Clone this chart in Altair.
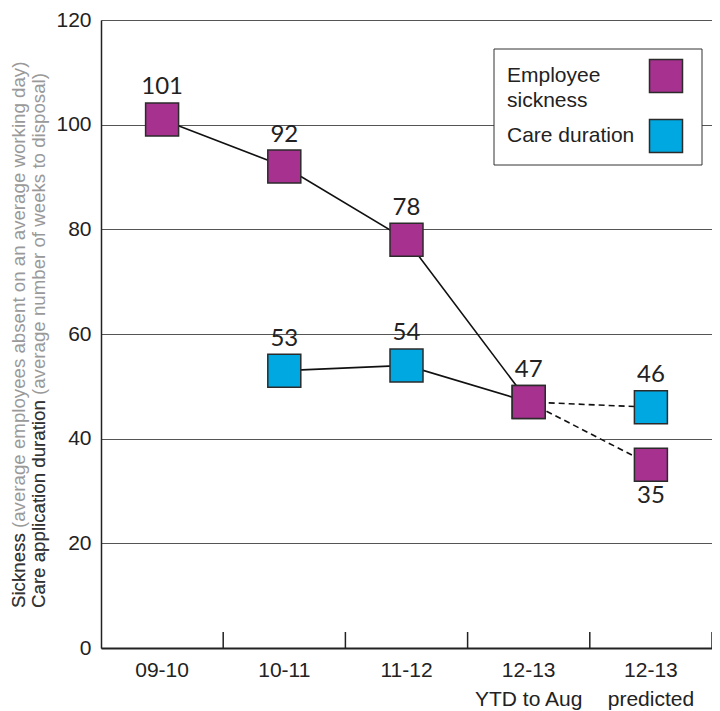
import altair as alt
import pandas as pd

# ---- data ----
categories = ["09-10", "10-11", "11-12", "12-13\nYTD to Aug", "12-13\npredicted"]
sickness = [101, 92, 78, 47, 35]
care = [None, 53, 54, 47, 46]
sickness_labels = ["101", "92", "78", "47", "35"]
sickness_label_pos = ["above", "above", "above", "above", "below"]
care_labels = ["", "53", "54", "", "46"]
y_ticks = [0, 20, 40, 60, 80, 100, 120]
legend_lines_1 = ["Employee", "sickness"]
legend_lines_2 = ["Care duration"]
title_lines = [
    "Sickness (average employees absent on an average working day)",
    "Care application duration (average number of weeks to disposal)",
]
title_dark = ["Sickness", "Care application duration"]

PURPLE = "#A6318E"
BLUE = "#00A8E1"
STROKE = "#2b2b2b"
W, H = 611, 628

# ---- tables ----
pts_s = pd.DataFrame({"cat": categories, "value": sickness, "label": sickness_labels,
                      "pos": sickness_label_pos, "i": range(5)})
pts_c = pd.DataFrame({"cat": categories, "value": care, "label": care_labels,
                      "i": range(5)}).dropna(subset=["value"])

line_rows = []
for i in range(0, 4):
    line_rows.append({"cat": categories[i], "value": sickness[i], "grp": "s_solid", "style": "solid", "i": i})
for i in range(3, 5):
    line_rows.append({"cat": categories[i], "value": sickness[i], "grp": "s_dash", "style": "dashed", "i": i})
for i in range(1, 4):
    line_rows.append({"cat": categories[i], "value": care[i], "grp": "c_solid", "style": "solid", "i": i})
for i in range(3, 5):
    line_rows.append({"cat": categories[i], "value": care[i], "grp": "c_dash", "style": "dashed", "i": i})
lines_df = pd.DataFrame(line_rows)

x_enc = alt.X("cat:N", sort=categories, bandPosition=0.5,
              scale=alt.Scale(type="band", paddingInner=0, paddingOuter=0),
              axis=alt.Axis(title=None, labelAngle=0, ticks=False, grid=False,
                            labelExpr="split(datum.label, '\\n')",
                            labelFont="Liberation Sans", labelFontSize=21,
                            labelColor="#222", labelPadding=11, labelLineHeight=29,
                            domainColor="#222", domainWidth=2))
y_enc = alt.Y("value:Q", scale=alt.Scale(domain=[0, 120], nice=False),
              axis=alt.Axis(title=None, values=y_ticks, ticks=False, grid=True,
                            gridColor="#555", gridWidth=1,
                            labelFont="Liberation Sans", labelFontSize=21,
                            labelColor="#222", labelPadding=10,
                            domainColor="#222", domainWidth=1.5))

base_lines = alt.Chart(lines_df)
solid = base_lines.transform_filter(alt.datum.style == "solid").mark_line(
    color="#111", strokeWidth=1.6).encode(x=x_enc, y=y_enc, detail="grp:N", order="i:Q")
dashed = base_lines.transform_filter(alt.datum.style == "dashed").mark_line(
    color="#111", strokeWidth=1.6, strokeDash=[6, 4]).encode(x=x_enc, y=y_enc, detail="grp:N", order="i:Q")

ticks_df = pd.DataFrame({"cat": categories})
xticks = alt.Chart(ticks_df).mark_rule(color="#222", strokeWidth=1.5).encode(
    x=alt.X("cat:N", sort=categories, bandPosition=1),
    y=alt.value(H), y2=alt.value(H - 16))

sq = dict(shape="square", size=1089, filled=True, stroke=STROKE, strokeWidth=1.5, opacity=1)
care_pts = alt.Chart(pts_c).mark_point(fill=BLUE, **sq).encode(x=x_enc, y=y_enc)
sick_pts = alt.Chart(pts_s).mark_point(fill=PURPLE, **sq).encode(x=x_enc, y=y_enc)

lab = dict(font="Lato", fontSize=24, color="#222")
care_lab = alt.Chart(pts_c).mark_text(baseline="alphabetic", dy=-25, **lab).encode(
    x=x_enc, y=y_enc, text="label:N")
sick_lab_up = alt.Chart(pts_s).transform_filter(alt.datum.pos == "above").mark_text(
    baseline="alphabetic", dy=-25, **lab).encode(x=x_enc, y=y_enc, text="label:N")
sick_lab_dn = alt.Chart(pts_s).transform_filter(alt.datum.pos == "below").mark_text(
    baseline="top", dy=19, **lab).encode(x=x_enc, y=y_enc, text="label:N")

# ---- custom legend ----
one = pd.DataFrame({"a": [0]})
leg_box = alt.Chart(one).mark_rect(fill="white", stroke="#333", strokeWidth=1).encode(
    x=alt.value(393), x2=alt.value(601), y=alt.value(29), y2=alt.value(145))
leg_sq1 = alt.Chart(one).mark_point(fill=PURPLE, **sq).encode(x=alt.value(565), y=alt.value(56))
leg_sq2 = alt.Chart(one).mark_point(fill=BLUE, **sq).encode(x=alt.value(565), y=alt.value(116))
legt = dict(font="Liberation Sans", fontSize=21, color="#222", align="left", baseline="middle")
leg_t1 = alt.Chart(pd.DataFrame({"t": [legend_lines_1]})).mark_text(lineHeight=25, **legt).encode(
    x=alt.value(406), y=alt.value(56), text="t")
leg_t2 = alt.Chart(pd.DataFrame({"t": legend_lines_2})).mark_text(**legt).encode(
    x=alt.value(406), y=alt.value(116), text="t:N")

# ---- y axis title (two tones) ----
ttl = dict(font="Liberation Sans", fontSize=18.7, angle=270, align="left", baseline="middle")
title_layers = []
for k, xpos in enumerate([-82, -62]):
    title_layers.append(alt.Chart(pd.DataFrame({"t": [title_lines[k]]})).mark_text(
        color="#999", **ttl).encode(x=alt.value(xpos), y=alt.value(588), text="t:N"))
    title_layers.append(alt.Chart(pd.DataFrame({"t": [title_dark[k]]})).mark_text(
        color="#333", **ttl).encode(x=alt.value(xpos), y=alt.value(588), text="t:N"))

chart = alt.layer(
    solid, dashed, xticks, care_pts, sick_pts, care_lab, sick_lab_up, sick_lab_dn,
    leg_box, leg_sq1, leg_sq2, leg_t1, leg_t2, *title_layers
).properties(
    width=W, height=H, autosize="none",
    padding={"left": 93, "top": 12, "right": 0, "bottom": 63},
).configure_view(strokeWidth=0).configure(background="white")

chart.save("out.html", embed_options={"renderer": "svg", "actions": False})
